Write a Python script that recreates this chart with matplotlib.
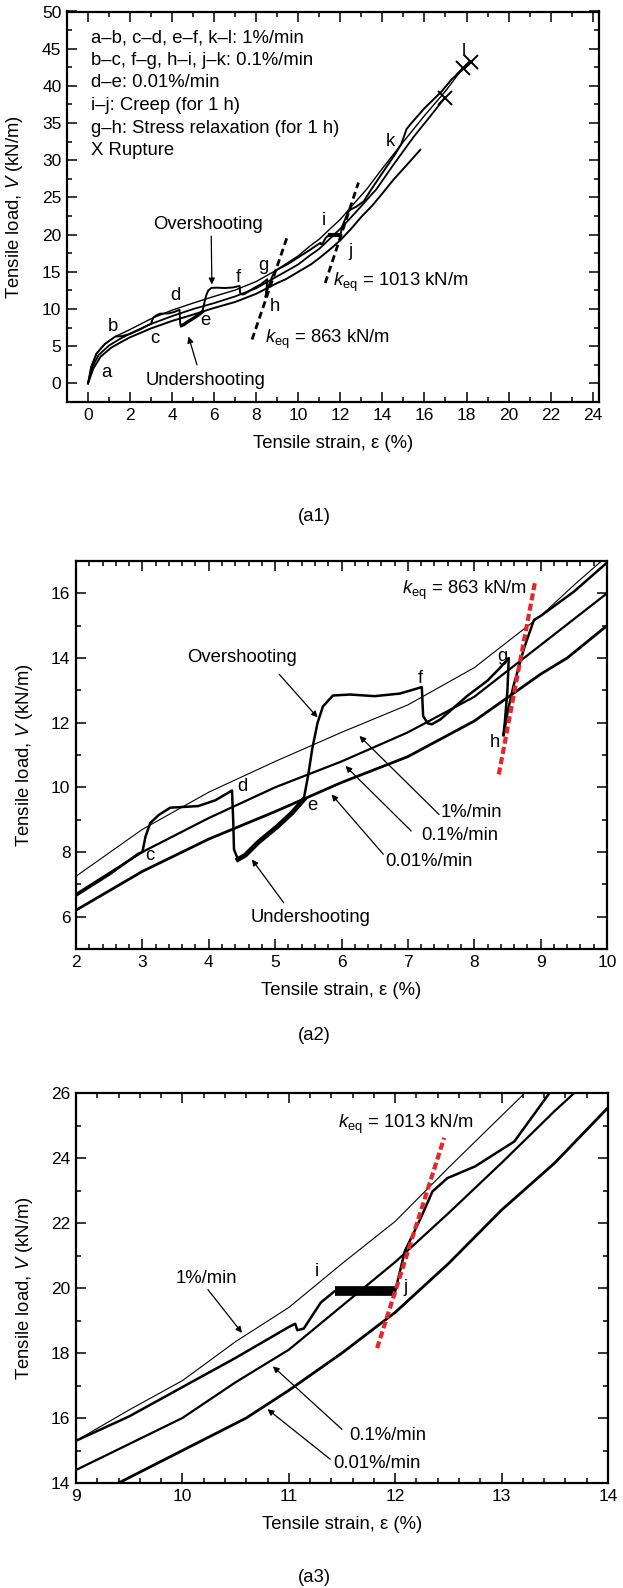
"""Load–strain curves of a geosynthetic under step-changed strain rates (three panels)."""

import matplotlib

matplotlib.use("Agg")
import matplotlib.pyplot as plt
from matplotlib.ticker import MultipleLocator

plt.rcParams["font.family"] = ["Liberation Sans", "DejaVu Sans"]
plt.rcParams["mathtext.fontset"] = "custom"
plt.rcParams["mathtext.rm"] = "Liberation Sans"
plt.rcParams["mathtext.it"] = "Liberation Sans:italic"
plt.rcParams["font.size"] = 13.3

# constant-rate tests, strain (%) and tensile load (kN/m)
strain_1 = [0, 0.15, 0.4, 0.8, 1.3, 2, 3, 4, 5, 6, 7, 8, 9, 9.5, 10, 10.5, 11, 11.5,
            12, 12.5, 13, 13.25, 14, 15, 16, 17, 17.83]
load_1 = [0, 2.2, 4.0, 5.3, 6.3, 7.25, 8.7, 9.85, 10.8, 11.7, 12.55, 13.7, 15.3, 16.25,
          17.15, 18.35, 19.4, 20.75, 22.05, 23.7, 25.3, 26.1, 28.9, 32.5, 36.0, 39.3, 42.4]

strain_01 = [0, 0.2, 0.5, 1.0, 1.5, 2, 3, 4, 5, 6, 7, 8, 9, 9.5, 10, 10.5, 11, 11.5,
             12, 12.5, 13, 13.5, 13.7, 14.5, 15.5, 16.3, 16.97]
load_01 = [0, 2.2, 3.8, 5.1, 5.95, 6.7, 8.0, 9.05, 10.0, 10.8, 11.7, 12.8, 14.4, 15.2,
           16.0, 17.1, 18.1, 19.45, 20.8, 22.3, 23.85, 25.45, 26.05, 29.3, 33.2, 36.0, 38.4]

strain_001 = [0, 0.25, 0.6, 1.1, 1.6, 2, 3, 4, 5, 6, 7, 8, 9, 9.4, 10, 10.6, 11, 11.5,
              12, 12.5, 13, 13.5, 14, 14.5, 15.2, 15.8]
load_001 = [0, 2.0, 3.6, 4.8, 5.6, 6.2, 7.4, 8.4, 9.25, 10.15, 10.95, 12.05, 13.5, 14.0,
            15.0, 16.0, 16.85, 18.0, 19.25, 20.75, 22.4, 23.85, 25.55, 27.3, 29.5, 31.4]

# step-changed test a -> l
step_strain = [0, 0.15, 0.4, 0.8, 1.3, 1.6, 2.0, 2.5, 2.94, 3.0, 3.05, 3.12, 3.25, 3.42,
               3.84, 4.1, 4.35, 4.37, 4.38, 4.44, 4.55, 4.74, 5.04, 5.25, 5.43, 5.5, 5.56,
               5.64, 5.72, 5.87, 6.13, 6.5, 6.88, 7.21, 7.23, 7.3, 7.36, 7.49, 7.89, 8.2,
               8.39, 8.52, 8.5, 8.46, 8.44, 8.5, 8.59, 8.75, 8.9, 9.0, 9.5, 10.0, 10.5,
               11.0, 11.06, 11.08, 11.14, 11.22, 11.3, 11.43, 12.0, 12.09, 12.24, 12.35,
               12.49, 12.75, 13.12, 13.45, 14.0, 14.6, 14.9, 15.15, 15.35, 16.0, 16.8,
               17.3, 18.23]
step_load = [0, 2.2, 4.0, 5.3, 6.3, 6.35, 6.65, 7.3, 7.95, 8.0, 8.5, 8.9, 9.15, 9.37,
             9.42, 9.6, 9.9, 8.9, 8.08, 7.77, 7.9, 8.29, 8.8, 9.2, 9.62, 10.4, 11.2, 12.0,
             12.5, 12.84, 12.87, 12.82, 12.9, 13.1, 12.2, 11.98, 11.95, 12.1, 12.82, 13.3,
             13.7, 14.0, 13.0, 12.0, 11.6, 12.3, 13.13, 14.3, 15.18, 15.3, 16.05, 16.95,
             17.85, 18.8, 18.9, 18.7, 18.75, 19.15, 19.55, 19.9, 19.9, 21.13, 22.15, 22.97,
             23.38, 23.74, 24.51, 26.0, 28.3, 30.8, 32.2, 34.2, 34.9, 37.0, 39.2, 40.9, 43.2]

# noisy undershoot (d-e) and creep (i-j) stretches
under_strain = [4.44, 4.55, 4.74, 5.04, 5.25, 5.43]
under_load = [7.77, 7.9, 8.29, 8.8, 9.2, 9.62]
creep_strain = [11.43, 12.0]
creep_load = [19.9, 19.9]

W, H = 623, 1588
fig = plt.figure(figsize=(W / 100, H / 100), dpi=100)


def frame(left, top, right, bottom):
    return fig.add_axes([left / W, 1 - bottom / H, (right - left) / W, (bottom - top) / H])


def style(ax, xlim, ylim, xmaj, xmin, ymaj, ymin, ylab_x):
    ax.set_xlim(*xlim)
    ax.set_ylim(*ylim)
    ax.xaxis.set_major_locator(MultipleLocator(xmaj))
    ax.xaxis.set_minor_locator(MultipleLocator(xmin))
    ax.yaxis.set_major_locator(MultipleLocator(ymaj))
    ax.yaxis.set_minor_locator(MultipleLocator(ymin))
    ax.tick_params(which="both", direction="in", top=True, right=True, width=1.1,
                   labelsize=12.5, pad=4)
    ax.tick_params(which="major", length=7)
    ax.tick_params(which="minor", length=3.5)
    for spine in ax.spines.values():
        spine.set_linewidth(1.6)
    ax.set_xlabel("Tensile strain, ε (%)", labelpad=9)
    ax.set_ylabel("Tensile load, $V$ (kN/m)")
    ax.yaxis.set_label_coords(ylab_x, 0.5)


def curves(ax, thin, mid, thick, step, band, creep):
    ax.plot(strain_1, load_1, color="k", lw=thin)
    ax.plot(strain_01, load_01, color="k", lw=mid)
    ax.plot(strain_001, load_001, color="k", lw=thick)
    ax.plot(step_strain, step_load, color="k", lw=step)
    ax.plot(under_strain, under_load, color="k", lw=band)
    ax.plot(creep_strain, creep_load, color="k", lw=creep, solid_capstyle="butt")


def arrow(ax, tail, tip):
    ax.annotate("", xy=tip, xytext=tail,
                arrowprops=dict(arrowstyle="-|>", color="k", lw=0.9, mutation_scale=9,
                                shrinkA=0, shrinkB=0))


keq = "$k_{\\mathrm{eq}}$"
red = "#e8262a"

# (a1) full range
ax1 = frame(67, 11.5, 599, 402)
style(ax1, (-1, 24.3), (-2.5, 50), 2, 1, 5, 2.5, -0.079)
curves(ax1, 1.0, 1.3, 1.4, 1.4, 2.4, 3)
for xs, ys in [(strain_1, load_1), (strain_01, load_01), (step_strain, step_load)]:
    ax1.plot(xs[-1], ys[-1], "x", color="k", ms=10, mew=1.4)
ax1.plot([7.8, 9.46], [5.9, 19.6], color="k", lw=2, linestyle=(0, (2.5, 1.5)))
ax1.plot([11.28, 12.86], [13.5, 27.0], color="k", lw=2, linestyle=(0, (2.5, 1.5)))
legend_lines = ["a–b, c–d, e–f, k–l: 1%/min", "b–c, f–g, h–i, j–k: 0.1%/min",
                "d–e: 0.01%/min", "i–j: Creep (for 1 h)",
                "g–h: Stress relaxation (for 1 h)", "X Rupture"]
for n, line in enumerate(legend_lines):
    ax1.text(0.13, 46.5 - 3.05 * n, line, ha="left", va="center")
for letter, x, y in [("a", 0.89, 1.4), ("b", 1.2, 7.7), ("c", 3.16, 6.1), ("d", 4.14, 11.8),
                     ("e", 5.57, 8.4), ("f", 7.16, 14.2), ("g", 8.35, 15.8), ("h", 8.9, 10.4),
                     ("i", 11.2, 21.9), ("j", 12.48, 17.8), ("k", 14.38, 32.5),
                     ("l", 17.86, 44.6)]:
    ax1.text(x, y, letter, ha="center", va="center")
ax1.text(5.7, 21.4, "Overshooting", ha="center", va="center")
arrow(ax1, (5.86, 19.8), (5.89, 13.3))
ax1.text(5.6, 0.4, "Undershooting", ha="center", va="center")
arrow(ax1, (5.18, 2.5), (4.78, 6.3))
ax1.text(8.4, 5.9, keq + " = 863 kN/m", ha="left", va="center")
ax1.text(11.66, 13.6, keq + " = 1013 kN/m", ha="left", va="center")

# (a2) 2-10 % detail
ax2 = frame(76, 561, 607, 949)
style(ax2, (2, 10), (5, 17), 1, 0.2, 2, 1, -0.077)
curves(ax2, 0.8, 1.6, 2.0, 1.8, 3.5, 8)
ax2.plot([8.37, 8.92], [10.4, 16.4], color=red, lw=3, linestyle=(0, (1.7, 0.8)))
ax2.text(8.8, 16.1, keq + " = 863 kN/m", ha="right", va="center")
for letter, x, y in [("c", 3.11, 7.88), ("d", 4.5, 10.02), ("e", 5.56, 9.44),
                     ("f", 7.19, 13.38), ("g", 8.42, 14.05), ("h", 8.31, 11.4)]:
    ax2.text(x, y, letter, ha="center", va="center")
ax2.text(4.5, 14.0, "Overshooting", ha="center", va="center")
arrow(ax2, (5.06, 13.5), (5.64, 12.16))
ax2.text(5.54, 5.97, "Undershooting", ha="center", va="center")
arrow(ax2, (5.13, 6.43), (4.65, 7.77))
ax2.text(7.5, 9.22, "1%/min", ha="left", va="center")
arrow(ax2, (7.47, 9.16), (6.27, 11.59))
ax2.text(7.2, 8.5, "0.1%/min", ha="left", va="center")
arrow(ax2, (7.05, 8.65), (6.06, 10.66))
ax2.text(6.66, 7.7, "0.01%/min", ha="left", va="center")
arrow(ax2, (6.63, 7.93), (5.85, 9.78))

# (a3) 9-14 % detail
ax3 = frame(76, 1093, 608, 1483)
style(ax3, (9, 14), (14, 26), 1, 0.2, 2, 1, -0.077)
curves(ax3, 0.8, 1.6, 2.0, 1.8, 3.5, 7)
ax3.plot([11.83, 12.46], [18.15, 24.62], color=red, lw=3, linestyle=(0, (1.7, 0.8)))
ax3.text(11.46, 25.03, keq + " = 1013 kN/m", ha="left", va="center")
ax3.text(11.26, 20.51, "i", ha="center", va="center")
ax3.text(12.1, 20.0, "j", ha="center", va="center")
ax3.text(10.23, 20.3, "1%/min", ha="center", va="center")
arrow(ax3, (10.24, 19.95), (10.56, 18.62))
ax3.text(11.57, 15.47, "0.1%/min", ha="left", va="center")
arrow(ax3, (11.5, 15.65), (10.85, 17.59))
ax3.text(11.42, 14.6, "0.01%/min", ha="left", va="center")
arrow(ax3, (11.39, 14.73), (10.8, 16.27))

for caption, y in [("(a1)", 517), ("(a2)", 1036), ("(a3)", 1578)]:
    fig.text(0.504, 1 - y / H, caption, ha="center", va="center")

fig.savefig("out.png", dpi=100)
plt.close(fig)
